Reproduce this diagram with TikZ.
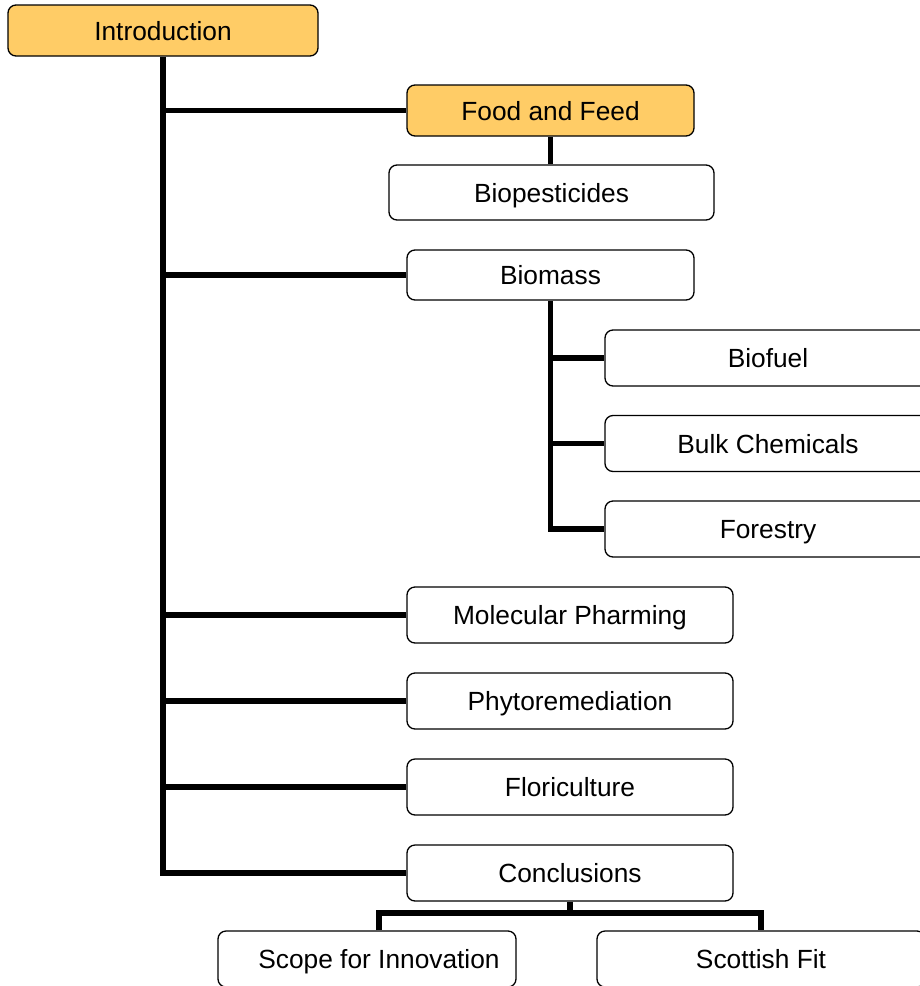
\documentclass[tikz,border=0pt]{standalone}
\usepackage{fontspec}
\setmainfont{Liberation Sans}
\usepackage{tikz}
\usetikzlibrary{positioning,calc}
\definecolor{hilite}{HTML}{FFCC66}

\begin{document}
\begin{tikzpicture}[x=1pt, y=-1pt,
  font=\fontsize{26.3}{30}\selectfont,
  box/.style={draw, rounded corners=8pt, line width=1.3pt, fill=white, align=center, minimum height=56pt, minimum width=326pt, inner sep=2pt, text height=19pt, text depth=0pt},
  hot/.style={box, fill=hilite, minimum height=51pt},
  link/.style={line width=5.8pt}]
  \useasboundingbox (0,0) rectangle (920,986);
  \clip (0,0) rectangle (920,986);
  % main column
  \node[hot, minimum width=310pt] (intro) at (163,30.5) {Introduction};
  \node[hot, minimum width=287pt] (food) at (550.5,110.5) {Food and Feed};
  \node[box, minimum width=325pt, minimum height=55pt] (biopest) at (551.5,192.5) {Biopesticides};
  \node[box, minimum width=287pt, minimum height=50pt] (biomass) at (550.5,275) {Biomass};
  % biomass children
  \node[box] (biofuel) at (768,358) {Biofuel};
  \node[box] (bulk) at (768,443.5) {Bulk Chemicals};
  \node[box] (forest) at (768,529) {Forestry};
  % remaining sections
  \node[box] (pharm) at (570,615) {Molecular Pharming};
  \node[box] (phyto) at (570,701) {Phytoremediation};
  \node[box] (flori) at (570,787) {Floriculture};
  \node[box] (concl) at (570,873) {Conclusions};
  \node[box, minimum width=298pt] (scope) at (367,959) {\hspace*{24pt}Scope for Innovation};
  \node[box, minimum width=328pt] (scot) at (761,959) {Scottish Fit};
  % trunk and branches
  \draw[link] (intro.south) |- (concl.west);
  \foreach \n in {food,biomass,pharm,phyto,flori}
    \draw[link] (intro.south |- \n.west) -- (\n.west);
  \draw[link] (food.south) -- (food.south |- biopest.north);
  % biomass sub-tree
  \draw[link] (biomass.south) |- (forest.west);
  \foreach \n in {biofuel,bulk}
    \draw[link] (biomass.south |- \n.west) -- (\n.west);
  % conclusions split
  \coordinate (split) at ($(concl.south)+(0,11)$);
  \coordinate (scopetop) at ($(scope.north)+(12,0)$);
  \draw[link] (concl.south) -- (split);
  \draw[link] (scopetop) |- (split) -| (scot.north);
\end{tikzpicture}
\end{document}
